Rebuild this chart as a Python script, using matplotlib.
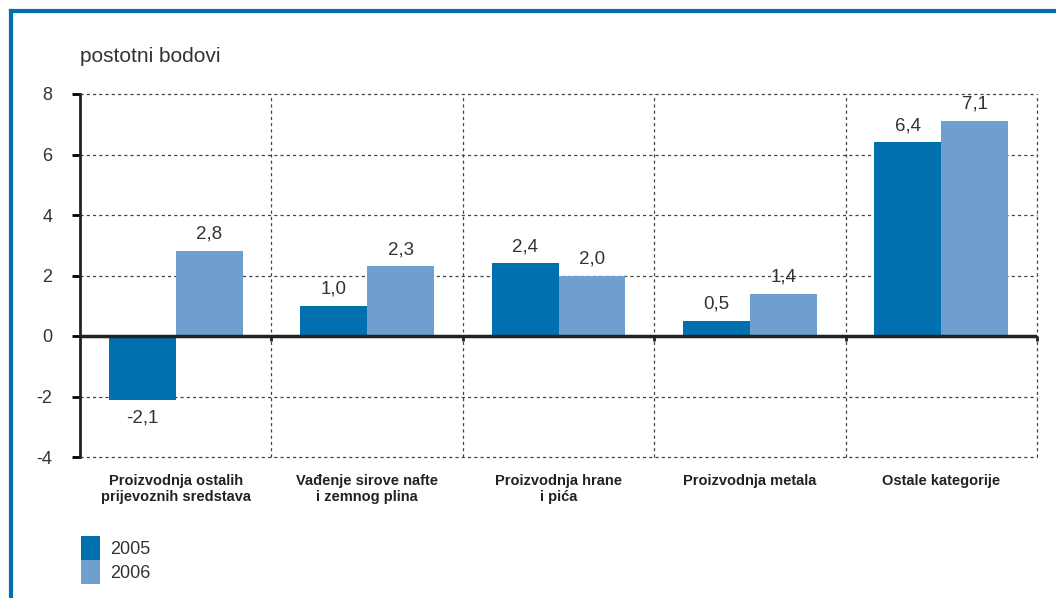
import numpy as np
import matplotlib.pyplot as plt
from matplotlib.lines import Line2D

kategorije = ['Proizvodnja ostalih\nprijevoznih sredstava',
              'Vađenje sirove nafte\ni zemnog plina',
              'Proizvodnja hrane\ni pića',
              'Proizvodnja metala',
              'Ostale kategorije']
v2005 = [-2.1, 1.0, 2.4, 0.5, 6.4]
v2006 = [2.8, 2.3, 2.0, 1.4, 7.1]
godine = ['2005', '2006']
boje = ['#0070ae', '#6f9fcf']

plt.rcParams['font.family'] = ['Liberation Sans', 'DejaVu Sans']
plt.rcParams['axes.unicode_minus'] = False
tekst = '#333333'

fig = plt.figure(figsize=(10.56, 5.98), dpi=100)
ax = fig.add_axes([80/1056, 1-457/598, 957/1056, 363/598])

x = np.arange(len(kategorije))
w = 0.35
b1 = ax.bar(x - w/2, v2005, w, color=boje[0], label=godine[0], zorder=3)
b2 = ax.bar(x + w/2, v2006, w, color=boje[1], label=godine[1], zorder=3)

for bars in (b1, b2):
    for b in bars:
        h = b.get_height()
        lab = ('%.1f' % h).replace('.', ',')
        if h >= 0:
            ax.annotate(lab, (b.get_x() + b.get_width()/2, h), xytext=(0, 6),
                        textcoords='offset points', ha='center', va='bottom',
                        fontsize=13.5, color=tekst)
        else:
            ax.annotate(lab, (b.get_x() + b.get_width()/2, h), xytext=(0, -7),
                        textcoords='offset points', ha='center', va='top',
                        fontsize=13.5, color=tekst)

ax.set_xlim(-0.5, len(kategorije) - 0.5)
ax.set_ylim(-4, 8)
ax.set_yticks(range(-4, 9, 2))
ax.tick_params(axis='y', length=6, width=2, labelsize=13, labelcolor=tekst, pad=14)
ax.set_xticks([])

# mreža
for yv in range(-4, 9, 2):
    if yv != 0:
        ax.axhline(yv, color='#444444', lw=0.9, ls=(0, (2.5, 2.5)), zorder=1, clip_on=False)
for xv in np.arange(0.5, len(kategorije), 1.0):
    ax.axvline(xv, color='#444444', lw=0.9, ls=(0, (2.5, 2.5)), zorder=1, clip_on=False)
    ax.plot([xv, xv], [0, -0.15], color='#222222', lw=2, zorder=4,
            solid_capstyle='butt', clip_on=False)
ax.axhline(0, color='#222222', lw=2.5, zorder=4)

for s in ['top', 'right', 'bottom']:
    ax.spines[s].set_visible(False)
ax.spines['left'].set_linewidth(2)
ax.spines['left'].set_color('#222222')

for i, k in enumerate(kategorije):
    ax.text(i, -4.55, k, ha='center', va='top', fontsize=10.5, fontweight='bold',
            color='#222222', linespacing=1.2)

fig.text(80/1056, 1-57/598, 'postotni bodovi', fontsize=15, color=tekst, va='center')

ax.legend(loc='upper left', bbox_to_anchor=(81/1056, 1-536/598),
          bbox_transform=fig.transFigure, frameon=False, fontsize=13,
          handlelength=1.05, handleheight=1.65, labelspacing=0.0, handletextpad=0.55,
          borderpad=0.0, borderaxespad=0.0, labelcolor=tekst)

# okvir
fig.add_artist(Line2D([11/1056, 11/1056], [0, 1-11/598], color='#0070ae', lw=3,
                      transform=fig.transFigure))
fig.add_artist(Line2D([11/1056, 1], [1-11/598, 1-11/598], color='#0070ae', lw=3,
                      transform=fig.transFigure))

fig.savefig('out.png', dpi=100)
